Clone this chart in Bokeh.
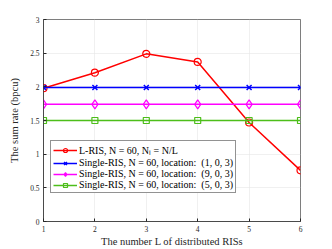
from bokeh.plotting import figure
from bokeh.embed import file_html
from bokeh.resources import INLINE
from bokeh.models import Legend, LegendItem, FixedTicker

L_vals = [1, 2, 3, 4, 5, 6]
lris = [1.98, 2.21, 2.49, 2.37, 1.47, 0.76]
single_103 = [1.99, 1.99, 1.99, 1.99, 1.99, 1.99]
single_903 = [1.74, 1.74, 1.74, 1.74, 1.74, 1.74]
single_503 = [1.50, 1.50, 1.50, 1.50, 1.50, 1.50]
x_ticks = [1, 2, 3, 4, 5, 6]
y_ticks = [0, 0.5, 1, 1.5, 2, 2.5, 3]

FONT = "Liberation Serif"

p = figure(width=332, height=249, output_backend="svg", toolbar_location=None,
           x_range=(1, 6), y_range=(0, 3),
           min_border_left=43, min_border_right=32, min_border_top=19, min_border_bottom=28)
p.background_fill_color = "white"
p.border_fill_color = "white"
p.outline_line_color = "#262626"
p.outline_line_width = 0.6

for ax in (p.xaxis[0], p.yaxis[0]):
    ax.major_tick_in = 3
    ax.major_tick_out = 0
    ax.minor_tick_in = 0
    ax.minor_tick_out = 0
    ax.axis_line_color = "#262626"
    ax.axis_line_width = 0.6
    ax.major_tick_line_color = "#262626"
    ax.major_label_text_font = FONT
    ax.major_label_text_font_size = "7.5px"
    ax.major_label_text_color = "#262626"
    ax.axis_label_text_font = FONT
    ax.axis_label_text_font_size = "10.5px"
    ax.axis_label_text_font_style = "normal"
    ax.axis_label_text_color = "#262626"

p.xaxis.ticker = FixedTicker(ticks=x_ticks)
p.yaxis.ticker = FixedTicker(ticks=y_ticks)
p.yaxis.major_label_overrides = {0: "0", 0.5: "0.5", 1: "1", 1.5: "1.5", 2: "2", 2.5: "2.5", 3: "3"}
p.xaxis.axis_label = "The number L of distributed RISs"
p.yaxis.axis_label = "The sum rate (bpcu)"
p.xaxis.major_label_standoff = 4
p.yaxis.major_label_standoff = 4
p.xaxis.axis_label_standoff = 1
p.yaxis.axis_label_standoff = 7

p.xgrid.grid_line_color = "#e6e6e6"
p.ygrid.grid_line_color = "#e6e6e6"
p.xgrid.grid_line_width = 0.6
p.ygrid.grid_line_width = 0.6

r1 = p.line(L_vals, lris, line_color="#ff0000", line_width=1.5)
m1 = p.scatter(L_vals, lris, marker="circle", size=7, line_color="#ff0000",
               fill_color=None, line_width=1.2)
r2 = p.line(L_vals, single_103, line_color="#0000ff", line_width=1.5)
m2 = p.scatter(L_vals, single_103, marker="x", size=7, line_color="#0000ff", line_width=1.5)
r3 = p.line(L_vals, single_903, line_color="#ff00ff", line_width=1.5)
m3 = p.scatter(L_vals, single_903, marker="diamond", size=9, line_color="#ff00ff",
               fill_color=None, line_width=1.2)
r4 = p.line(L_vals, single_503, line_color="#4dbe1a", line_width=1.5)
m4 = p.scatter(L_vals, single_503, marker="square", size=6, line_color="#4dbe1a",
               fill_color=None, line_width=1.2)

legend = Legend(items=[
    LegendItem(label="L-RIS, N = 60, N\u2097 = N/L", renderers=[r1, m1]),
    LegendItem(label="Single-RIS, N = 60, location:  (1, 0, 3)", renderers=[r2, m2]),
    LegendItem(label="Single-RIS, N = 60, location:  (9, 0, 3)", renderers=[r3, m3]),
    LegendItem(label="Single-RIS, N = 60, location:  (5, 0, 3)", renderers=[r4, m4]),
], location=(7, 28))
legend.label_text_font = FONT
legend.label_text_font_size = "10px"
legend.label_text_color = "#000000"
legend.glyph_width = 24
legend.glyph_height = 10
legend.label_height = 10
legend.spacing = 0
legend.padding = 2
legend.margin = 0
legend.label_standoff = 2
legend.border_line_color = "#262626"
legend.border_line_width = 0.6
legend.background_fill_color = "white"
legend.background_fill_alpha = 1
p.add_layout(legend, "center")

open("out.html", "w").write(file_html(p, INLINE))
